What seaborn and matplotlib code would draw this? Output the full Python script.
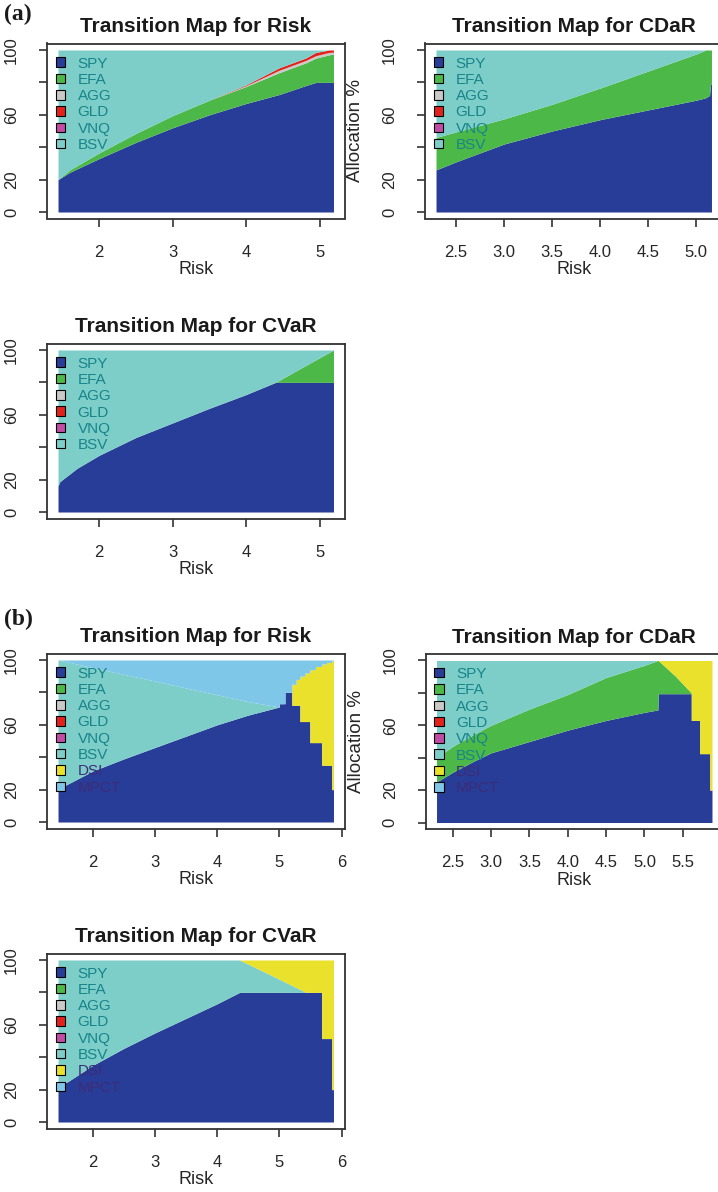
import numpy as np
import pandas as pd
import matplotlib
matplotlib.use("Agg")
import matplotlib.pyplot as plt
from matplotlib.patches import Patch
import seaborn as sns

sns.set_theme(style="ticks")
plt.rcParams["font.family"] = ["Liberation Sans", "DejaVu Sans"]

ASSETS_A = ["SPY", "EFA", "AGG", "GLD", "VNQ", "BSV"]
ASSETS_B = ["SPY", "EFA", "AGG", "GLD", "VNQ", "BSV", "DSI", "MPCT"]
ASSET_COLORS = {
    "SPY": "#283d97", "EFA": "#4cb848", "AGG": "#c9c9c9", "GLD": "#e3221c",
    "VNQ": "#c24ca3", "BSV": "#7dcdc8", "DSI": "#e9e12c", "MPCT": "#7fc7e9",
}

# ---------------- (a) universe: 6 assets ----------------
# Transition map for Risk (standard deviation)
a_risk_x   = [1.44, 1.60, 2.00, 2.50, 3.00, 3.50, 4.00, 4.45, 4.81, 4.95, 5.13, 5.19]
a_risk_spy = [20, 24.5, 33, 43, 52, 60, 67, 72.5, 78, 80, 80, 80]
a_risk_efa = [0, 1.5, 3.5, 5.5, 7.5, 9, 10.5, 13.5, 14, 15, 17, 17.5]
a_risk_agg = [0, 0, 0, 0, 0, 0, 0.5, 1.5, 1.5, 1.5, 1.5, 1.2]
a_risk_gld = [0, 0, 0, 0, 0, 0, 0.5, 1.5, 1.5, 2, 1.5, 1.3]
a_risk_bsv = [80, 74, 63.5, 51.5, 40.5, 31, 21.5, 11, 5, 1.5, 0, 0]

# Transition map for CDaR
a_cdar_x   = [2.29, 2.50, 3.00, 3.50, 4.00, 4.50, 5.00, 5.10, 5.14, 5.15, 5.16]
a_cdar_spy = [26, 31, 42, 50, 57, 63, 69, 70.5, 72, 79, 79]
a_cdar_efa = [20, 18.5, 15.5, 16.5, 19.5, 24, 28.5, 29.5, 28, 21, 21]
a_cdar_bsv = [54, 50.5, 42.5, 33.5, 23.5, 13, 2.5, 0, 0, 0, 0]

# Transition map for CVaR
a_cvar_x   = [1.44, 1.46, 1.50, 1.70, 2.00, 2.50, 3.00, 3.50, 4.00, 4.40, 5.19]
a_cvar_spy = [16, 18.5, 20, 27, 35, 46, 55, 64, 72.5, 80, 80]
a_cvar_efa = [0, 0, 0, 0, 0, 0, 0, 0, 0, 0, 20]
a_cvar_bsv = [84, 81.5, 80, 73, 65, 54, 45, 36, 27.5, 20, 0]

# ---------------- (b) universe: 8 assets ----------------
# Transition map for Risk: smooth part, then discrete frontier columns
b_risk_x    = [1.44, 1.60, 2.00, 2.50, 3.00, 3.50, 4.00, 4.50, 5.00]
b_risk_spy  = [20, 23.5, 31.5, 39, 46, 53, 60, 66, 71]
b_risk_bsv  = [80, 75.2, 63.8, 52.1, 41, 29.7, 18.5, 8.3, 0]
b_risk_mpct = [0, 1.3, 4.7, 8.9, 13, 17.3, 21.5, 25.7, 29]
b_risk_col_x    = [5.00, 5.09, 5.20, 5.27, 5.33, 5.41, 5.49, 5.58, 5.68, 5.76, 5.84]
b_risk_col_end  = 5.87
b_risk_col_spy  = [73, 80, 72, 72, 62, 62, 49, 49, 35, 35, 20]
b_risk_col_dsi  = [0, 0, 13, 16, 28, 30, 45, 47, 62.5, 63.5, 79.5]
b_risk_col_mpct = [27, 20, 15, 12, 10, 8, 6, 4, 2.5, 1.5, 0.5]

# Transition map for CDaR
b_cdar_x   = [2.29, 2.50, 2.76, 3.00, 3.50, 4.00, 4.50, 5.00, 5.175, 5.18, 5.40, 5.61]
b_cdar_spy = [25, 31, 37.5, 43, 50, 57, 63, 68, 69.5, 79.5, 79.5, 79.5]
b_cdar_efa = [15, 16, 16.5, 17, 20, 22, 26.5, 29, 30.5, 20.5, 11, 0.5]
b_cdar_bsv = [60, 53, 46, 40, 30, 21, 10.5, 3, 0, 0, 0, 0]
b_cdar_dsi = [0, 0, 0, 0, 0, 0, 0, 0, 0, 0, 9.5, 20]
b_cdar_col_x   = [5.61, 5.72, 5.85]
b_cdar_col_end = 5.88
b_cdar_col_spy = [63, 42.5, 20]
b_cdar_col_dsi = [37, 57.5, 80]

# Transition map for CVaR
b_cvar_x   = [1.44, 1.60, 2.00, 2.50, 3.00, 3.50, 4.00, 4.36, 4.90, 5.43]
b_cvar_spy = [22, 25, 35, 45.5, 55, 64, 73, 80, 80, 80]
b_cvar_bsv = [78, 75, 65, 54.5, 45, 36, 27, 20, 10, 0]
b_cvar_dsi = [0, 0, 0, 0, 0, 0, 0, 0, 10, 20]
b_cvar_col_x   = [5.43, 5.68, 5.84]
b_cvar_col_end = 5.87
b_cvar_col_spy = [80, 51.5, 20]
b_cvar_col_dsi = [20, 48.5, 80]


def smooth_frame(x, assets, **weights):
    df = pd.DataFrame({"risk": x})
    for a in assets:
        df[a] = weights.get(a.lower(), [0.0] * len(x))
    return df


def column_frame(starts, end, assets, **weights):
    """Frontier columns held constant between successive risk levels."""
    rights = list(starts[1:]) + [end]
    xs = [v for s, e in zip(starts, rights) for v in (s, e)]
    df = pd.DataFrame({"risk": xs})
    for a in assets:
        vals = weights.get(a.lower(), [0.0] * len(starts))
        df[a] = [v for v in vals for _ in (0, 1)]
    return df


frames = {
    "a_risk": smooth_frame(a_risk_x, ASSETS_A, spy=a_risk_spy, efa=a_risk_efa,
                           agg=a_risk_agg, gld=a_risk_gld, bsv=a_risk_bsv),
    "a_cdar": smooth_frame(a_cdar_x, ASSETS_A, spy=a_cdar_spy, efa=a_cdar_efa, bsv=a_cdar_bsv),
    "a_cvar": smooth_frame(a_cvar_x, ASSETS_A, spy=a_cvar_spy, efa=a_cvar_efa, bsv=a_cvar_bsv),
    "b_risk": pd.concat([
        smooth_frame(b_risk_x, ASSETS_B, spy=b_risk_spy, bsv=b_risk_bsv, mpct=b_risk_mpct),
        column_frame(b_risk_col_x, b_risk_col_end, ASSETS_B, spy=b_risk_col_spy,
                     dsi=b_risk_col_dsi, mpct=b_risk_col_mpct)], ignore_index=True),
    "b_cdar": pd.concat([
        smooth_frame(b_cdar_x, ASSETS_B, spy=b_cdar_spy, efa=b_cdar_efa,
                     bsv=b_cdar_bsv, dsi=b_cdar_dsi),
        column_frame(b_cdar_col_x, b_cdar_col_end, ASSETS_B, spy=b_cdar_col_spy,
                     dsi=b_cdar_col_dsi)], ignore_index=True),
    "b_cvar": pd.concat([
        smooth_frame(b_cvar_x, ASSETS_B, spy=b_cvar_spy, bsv=b_cvar_bsv, dsi=b_cvar_dsi),
        column_frame(b_cvar_col_x, b_cvar_col_end, ASSETS_B, spy=b_cvar_col_spy,
                     dsi=b_cvar_col_dsi)], ignore_index=True),
}

W, H = 718, 1192
fig = plt.figure(figsize=(W / 100, H / 100), dpi=100)
fig.patch.set_facecolor("white")

FRAME_COL = "#333333"
TEXT_COL = "#262626"


def add_box(left, top, width=297.5, height=175):
    return fig.add_axes([left / W, 1 - (top + height) / H, width / W, height / H])


def draw_map(ax, df, assets, title, xticks, xfmt, ylabel=False):
    x = df["risk"].to_numpy()
    ys = [df[a].to_numpy() for a in assets]
    ax.stackplot(x, ys, colors=[ASSET_COLORS[a] for a in assets], linewidth=0)
    span = x.max() - x.min()
    ax.set_xlim(x.min() - 0.04 * span, x.max() + 0.04 * span)
    ax.set_ylim(-4, 104)
    ax.set_facecolor("white")

    ax.set_xticks(xticks)
    ax.set_xticklabels([xfmt.format(t) for t in xticks])
    ax.set_yticks([0, 20, 40, 60, 80, 100])
    ax.set_yticklabels(["0", "20", "", "60", "", "100"], rotation=90, va="center")
    ax.tick_params(axis="both", direction="out", length=6, width=1.2, color=FRAME_COL,
                   labelsize=12, labelcolor=TEXT_COL)
    ax.tick_params(axis="x", pad=13)
    ax.tick_params(axis="y", pad=14)
    for sp in ax.spines.values():
        sp.set_visible(True)
        sp.set_color(FRAME_COL)
        sp.set_linewidth(1.3)

    ax.set_title(title, fontsize=15, fontweight="bold", color="#1a1a1a", pad=8)
    ax.set_xlabel("Risk", fontsize=13, color=TEXT_COL, labelpad=1)
    if ylabel:
        ax.set_ylabel("Allocation %", fontsize=13.5, color=TEXT_COL)
        ax.yaxis.set_label_coords(-0.205, 0.5)

    handles = [Patch(facecolor=ASSET_COLORS[a], edgecolor="black", linewidth=0.8)
               for a in assets]
    leg = ax.legend(handles, assets, loc="upper left", bbox_to_anchor=(0.03, 0.925),
                    frameon=False, fontsize=11, handlelength=0.62, handleheight=0.58,
                    handletextpad=0.8, labelspacing=0.15, borderpad=0, borderaxespad=0)
    for txt, a in zip(leg.get_texts(), assets):
        txt.set_color("#3d2c78" if a in ("DSI", "MPCT") else "#17858a")


int_fmt, dec_fmt = "{:.0f}", "{:.1f}"

ax = add_box(47, 43.5)
draw_map(ax, frames["a_risk"], ASSETS_A, "Transition Map for Risk", [2, 3, 4, 5], int_fmt)
ax = add_box(425, 43.5)
draw_map(ax, frames["a_cdar"], ASSETS_A, "Transition Map for CDaR",
         [2.5, 3.0, 3.5, 4.0, 4.5, 5.0], dec_fmt, ylabel=True)
ax = add_box(47, 343.5)
draw_map(ax, frames["a_cvar"], ASSETS_A, "Transition Map for CVaR", [2, 3, 4, 5], int_fmt)

ax = add_box(47, 653.5)
draw_map(ax, frames["b_risk"], ASSETS_B, "Transition Map for Risk", [2, 3, 4, 5, 6], int_fmt)
ax = add_box(425.5, 654)
draw_map(ax, frames["b_cdar"], ASSETS_B, "Transition Map for CDaR",
         [2.5, 3.0, 3.5, 4.0, 4.5, 5.0, 5.5], dec_fmt, ylabel=True)
ax = add_box(47, 953.5)
draw_map(ax, frames["b_cvar"], ASSETS_B, "Transition Map for CVaR", [2, 3, 4, 5, 6], int_fmt)

for label, top in (("(a)", 4), ("(b)", 609)):
    fig.text(4 / W, 1 - top / H, label, ha="left", va="top", fontsize=17,
             fontweight="bold", family=["Liberation Serif", "DejaVu Serif"], color="#1a1a1a")

fig.savefig("out.png", dpi=100, facecolor="white")
